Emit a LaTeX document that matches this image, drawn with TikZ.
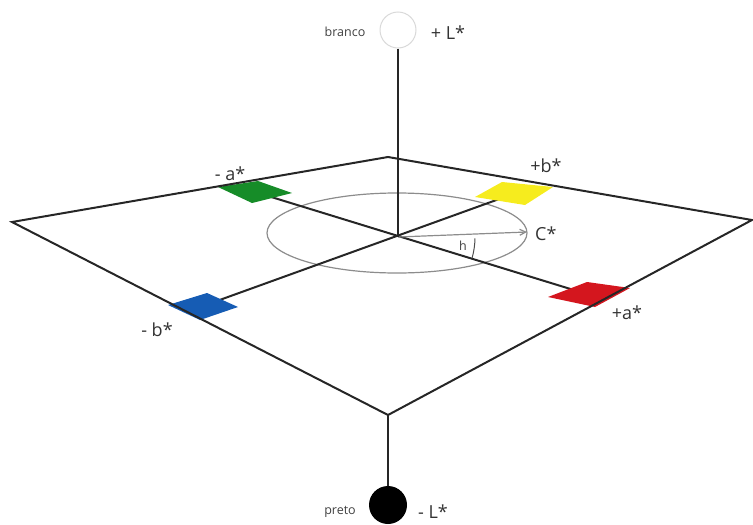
\documentclass[tikz,border=0pt]{standalone}
\usepackage{fontspec}
\setmainfont{Open Sans}
\usetikzlibrary{arrows.meta}
\definecolor{pgreen}{RGB}{22,140,40}
\definecolor{pyellow}{RGB}{246,236,30}
\definecolor{pblue}{RGB}{22,92,180}
\definecolor{pred}{RGB}{212,22,30}
\begin{document}
\begin{tikzpicture}[x=1pt,y=-1pt,
  edge/.style={line width=2pt, draw=black!85},
  grayline/.style={line width=1.2pt, draw=black!45},
  lbl/.style={font=\fontsize{18}{20}\selectfont, text=black!80, inner sep=0pt},
  smalllbl/.style={font=\fontsize{12.5}{14}\selectfont, text=black!75, inner sep=0pt}]
\useasboundingbox (0,0) rectangle (753,525);
% plane corners and centre
\coordinate (PL) at (12,222);
\coordinate (PT) at (388,157);
\coordinate (PR) at (752,220);
\coordinate (PB) at (388,415);
\coordinate (O) at (398,237);
% patch centres
\coordinate (G) at (255,192);
\coordinate (Y) at (513,194);
\coordinate (Bl) at (203,306);
\coordinate (Rd) at (590,295);
\coordinate (Ctip) at (527,232);
% ellipse
\draw[grayline] (397,233) ellipse [x radius=130, y radius=40];
% axes
\draw[edge] (G) -- (Rd);
\draw[edge] (Bl) -- (Y);
% chroma arrow and hue angle
\draw[grayline, -{Straight Barb[length=6pt,width=6pt]}] (O) -- (Ctip);
\draw[line width=1pt, black!70] (O) ++(1:77) arc[start angle=1, end angle=16, radius=77];
% colour patches
\fill[pgreen] (218,187) -- (258,181) -- (292,193) -- (252,203) -- cycle;
\fill[pyellow] (475,197) -- (502,182) -- (553,187) -- (525,205) -- cycle;
\fill[pblue] (168,305) -- (207,293) -- (238,307) -- (200,320) -- cycle;
\fill[pred] (548,297) -- (587,282) -- (630,288) -- (595,307) -- cycle;
% plane
\draw[edge, line join=miter] (PL) -- (PT) -- (PR) -- (PB) -- cycle;
% L axis
\node[circle, draw=black!15, fill=white, line width=1pt, minimum size=36pt, inner sep=0pt] (branco) at (398,30) {};
\node[circle, fill=black, minimum size=38pt, inner sep=0pt] (preto) at (388,505) {};
\draw[edge] (branco) -- (O);
\draw[edge] (PB) -- (preto);
% labels
\node[smalllbl] (tbranco) at (345,32) {branco};
\node[lbl] (tLp) at (448,33) {+ L*};
\node[smalllbl] (tpreto) at (340,512) {preto};
\node[lbl] (tLm) at (433,512) {- L*};
\node[lbl] (tam) at (230,174) {- a*};
\node[lbl] (tbp) at (546,166) {+b*};
\node[lbl] (tbm) at (157,330) {- b*};
\node[lbl] (tap) at (627,313) {+a*};
\node[lbl, anchor=west] (tC) at (535,234) {C*};
\node[smalllbl] (th) at (463,246) {h};
\end{tikzpicture}
\end{document}
